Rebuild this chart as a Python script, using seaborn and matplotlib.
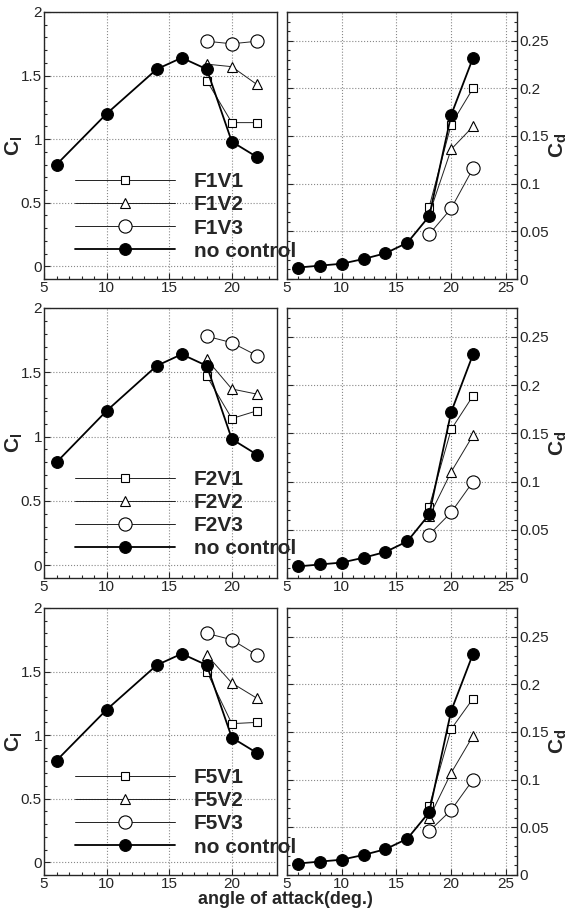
import numpy as np
import pandas as pd
import matplotlib
matplotlib.use('Agg')
import matplotlib.pyplot as plt
import seaborn as sns
from matplotlib.ticker import MultipleLocator

# --- datos ---
alpha_cl = [6, 10, 14, 16, 18, 20, 22]
alpha_cd = [6, 8, 10, 12, 14, 16, 18, 20, 22]
alpha_ctrl = [18, 20, 22]

cl_nc = [0.80, 1.20, 1.55, 1.64, 1.55, 0.98, 0.86]
cd_nc = [0.012, 0.014, 0.016, 0.021, 0.027, 0.038, 0.066, 0.172, 0.232]

casos = ['F1', 'F2', 'F5']

cl_v1 = {'F1': [1.46, 1.13, 1.13], 'F2': [1.47, 1.14, 1.20], 'F5': [1.50, 1.09, 1.10]}
cl_v2 = {'F1': [1.59, 1.57, 1.43], 'F2': [1.60, 1.37, 1.33], 'F5': [1.63, 1.41, 1.29]}
cl_v3 = {'F1': [1.77, 1.75, 1.77], 'F2': [1.78, 1.73, 1.63], 'F5': [1.80, 1.75, 1.63]}

cd_v1 = {'F1': [0.076, 0.162, 0.200], 'F2': [0.074, 0.154, 0.189], 'F5': [0.072, 0.153, 0.185]}
cd_v2 = {'F1': [0.068, 0.136, 0.160], 'F2': [0.064, 0.110, 0.148], 'F5': [0.060, 0.107, 0.146]}
cd_v3 = {'F1': [0.047, 0.074, 0.116], 'F2': [0.045, 0.068, 0.100], 'F5': [0.046, 0.068, 0.100]}

sns.set_style('ticks')
plt.rcParams['font.family'] = ['Liberation Sans', 'DejaVu Sans']
plt.rcParams['mathtext.fontset'] = 'custom'
plt.rcParams['mathtext.rm'] = 'Liberation Sans'
plt.rcParams['mathtext.bf'] = 'Liberation Sans:bold'

W, H = 568, 916
fig = plt.figure(figsize=(W / 100, H / 100), dpi=100)

filas = [(0.6954, 0.2915), (0.369, 0.2948), (0.0448, 0.2915)]
x_izq, w_izq = 0.0775, 0.410
x_der, w_der = 0.505, 0.405

grid_kw = dict(color='#888888', linestyle=':', linewidth=0.8)
abierto = dict(color='#222222', linewidth=0.7, markerfacecolor='white',
               markeredgecolor='black', markeredgewidth=0.8)
lleno = dict(color='black', linewidth=1.3, marker='o', markersize=8.5,
             markerfacecolor='black', markeredgecolor='black')


def estilo(ax):
    ax.tick_params(which='both', direction='in', labelsize=11, width=0.8, pad=1.5)
    ax.tick_params(which='major', length=4)
    ax.tick_params(which='minor', length=2)
    for s in ax.spines.values():
        s.set_linewidth(1.0)
    ax.grid(True, which='major', **grid_kw)


for i, caso in enumerate(casos):
    b, h = filas[i]
    ax1 = fig.add_axes([x_izq, b, w_izq, h])
    ax2 = fig.add_axes([x_der, b, w_der, h])
    ax1.set_zorder(3)

    # --- Cl ---
    sns.lineplot(x=alpha_ctrl, y=cl_v1[caso], ax=ax1, marker='s', markersize=6,
                 label=f'{caso}V1', **abierto)
    sns.lineplot(x=alpha_ctrl, y=cl_v2[caso], ax=ax1, marker='^', markersize=7.5,
                 label=f'{caso}V2', **abierto)
    sns.lineplot(x=alpha_ctrl, y=cl_v3[caso], ax=ax1, marker='o', markersize=9.5,
                 label=f'{caso}V3', **abierto)
    sns.lineplot(x=alpha_cl, y=cl_nc, ax=ax1, label='no control', **lleno)

    ax1.set_xlim(5, 23.6)
    ax1.set_ylim(-0.1, 2)
    ax1.xaxis.set_major_locator(MultipleLocator(5))
    ax1.xaxis.set_minor_locator(MultipleLocator(1))
    ax1.set_yticks([0, 0.5, 1, 1.5, 2])
    ax1.set_yticklabels(['0', '0.5', '1', '1.5', '2'])
    ax1.yaxis.set_minor_locator(MultipleLocator(0.1))
    ax1.set_ylabel('')
    estilo(ax1)

    ax1.legend(loc='upper left', bbox_to_anchor=(0.133, 0.40), frameon=False,
               handlelength=4.8, handletextpad=0.9, labelspacing=0.2,
               borderpad=0, borderaxespad=0, numpoints=1,
               prop={'size': 15, 'weight': 'bold'})

    # --- Cd ---
    sns.lineplot(x=alpha_ctrl, y=cd_v1[caso], ax=ax2, marker='s', markersize=6, **abierto)
    sns.lineplot(x=alpha_ctrl, y=cd_v2[caso], ax=ax2, marker='^', markersize=7.5, **abierto)
    sns.lineplot(x=alpha_ctrl, y=cd_v3[caso], ax=ax2, marker='o', markersize=9.5, **abierto)
    sns.lineplot(x=alpha_cd, y=cd_nc, ax=ax2, **lleno)

    ax2.set_xlim(5, 26)
    ax2.set_ylim(0, 0.28)
    ax2.xaxis.set_major_locator(MultipleLocator(5))
    ax2.xaxis.set_minor_locator(MultipleLocator(1))
    ax2.yaxis.tick_right()
    ax2.set_yticks([0, 0.05, 0.1, 0.15, 0.2, 0.25])
    ax2.set_yticklabels(['0', '0.05', '0.1', '0.15', '0.2', '0.25'])
    ax2.yaxis.set_minor_locator(MultipleLocator(0.01))
    ax2.set_ylabel('')
    estilo(ax2)
    ax2.tick_params(axis='y', which='both', left=True, right=True)

    # etiquetas de eje como texto de figura
    yc = b + h * 0.5
    fig.text(14 / W, yc, r'$\mathbf{C_l}$', rotation=90, ha='center', va='center',
             fontsize=15)
    fig.text(558 / W, yc, r'$\mathbf{C_d}$', rotation=90, ha='center', va='center',
             fontsize=15)

fig.text(285 / W, 1 - 899 / H, 'angle of attack(deg.)', ha='center', va='center',
         fontsize=13, fontweight='bold')

fig.savefig('out.png', dpi=100)
